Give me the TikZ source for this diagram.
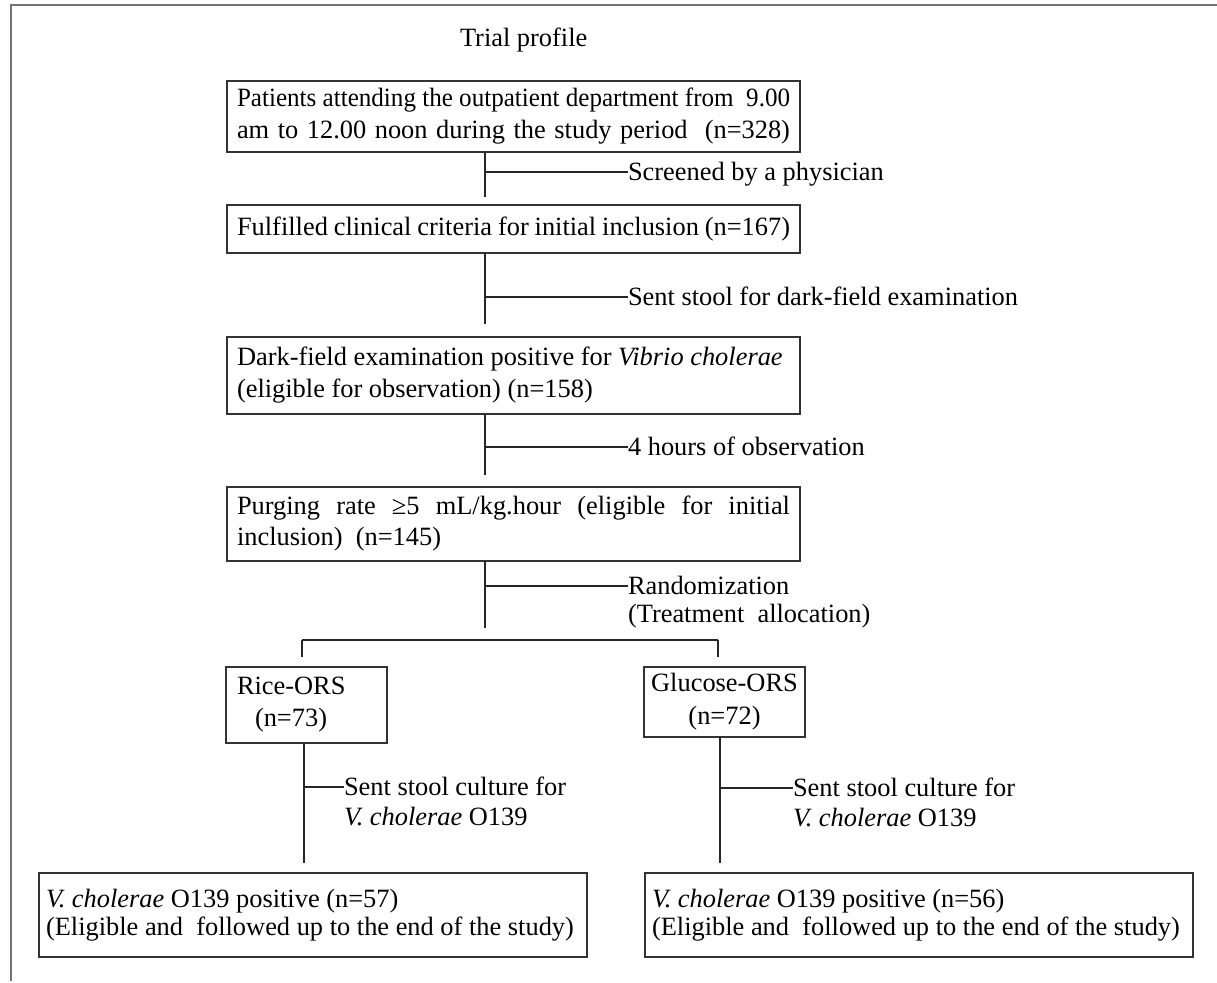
\documentclass[tikz,border=0pt]{standalone}
\usepackage{fontspec}
\setmainfont{Liberation Serif}
\usetikzlibrary{calc}
\newlength\lw
\newcommand\fs{\fontsize{26.4pt}{31pt}\selectfont}
\newcommand\jl[1]{\hbox to \lw{\spaceskip=0.1em plus 1fil\relax #1}}
\newcommand\sqline[1]{\hbox to \lw{\scalebox{0.95}[1]{#1}\hss}}
\newcommand\lline[1]{\hbox to \lw{#1\hfil}}
\newcommand\cenline[1]{\hbox to \lw{\hfil#1\hfil}}
\begin{document}
\begin{tikzpicture}[x=1pt,y=-1pt,
  box/.style={draw=black!80, line width=1.2pt, inner xsep=10pt, inner ysep=0pt, outer sep=0pt, anchor=north west, font=\fs},
  lbl/.style={inner sep=0pt, outer sep=0pt, anchor=base west, font=\fs},
  conn/.style={draw=black!85, line width=1.2pt},
  frame/.style={draw=black!55, line width=1.8pt}]
\useasboundingbox (0,0) rectangle (1217,982);
\draw[frame] (11,981) -- (11,5) -- (1217,5);

\node[lbl] (title) at (460,47) {Trial profile};

\node[box, minimum width=573pt, minimum height=71pt] (b1) at (227,81)
  {\lw=553pt\relax\vbox{\baselineskip=32pt
   \sqline{Patients attending the outpatient department from\ \ 9.00}
   \jl{am to 12.00 noon during the study period\ \ (n=328)}}};
\node[box, minimum width=573pt, minimum height=48pt] (b2) at (227,205)
  {\lw=553pt\relax\vbox{\lline{Fulfilled clinical criteria for initial inclusion (n=167)}}};
\node[box, minimum width=573pt, minimum height=77pt] (b3) at (227,337)
  {\lw=553pt\relax\vbox{\baselineskip=32pt
   \lline{Dark-field examination positive for \textit{Vibrio cholerae}}
   \lline{(eligible for observation) (n=158)}}};
\node[box, minimum width=573pt, minimum height=74pt] (b4) at (227,487)
  {\lw=553pt\relax\vbox{\baselineskip=31pt
   \jl{Purging rate ≥5 mL/kg.hour (eligible for initial}
   \lline{inclusion)\ \ (n=145)}}};
\node[box, minimum width=161pt, minimum height=76pt, inner xsep=11pt] (rice) at (226,667)
  {\lw=139pt\relax\vbox{\baselineskip=32pt
   \lline{Rice-ORS}
   \lline{\hspace{18pt}(n=73)}}};
\node[box, minimum width=161pt, minimum height=70pt, inner xsep=5pt] (gluc) at (644,667)
  {\lw=151pt\relax\vbox{\baselineskip=33pt
   \cenline{Glucose-ORS}
   \cenline{(n=72)}}};
\node[box, minimum width=548pt, minimum height=84pt, inner xsep=7pt] (res1) at (39,873)
  {\lw=534pt\relax\vbox{\baselineskip=28pt
   \lline{\textit{V. cholerae} O139 positive (n=57)}
   \lline{(Eligible and\ \ followed up to the end of the study)}}};
\node[box, minimum width=548pt, minimum height=84pt, inner xsep=7pt] (res2) at (645,873)
  {\lw=534pt\relax\vbox{\baselineskip=28pt
   \lline{\textit{V. cholerae} O139 positive (n=56)}
   \lline{(Eligible and\ \ followed up to the end of the study)}}};

% labels
\node[lbl] (s1) at (628,180) {Screened by a physician};
\node[lbl] (s2) at (628,305) {Sent stool for dark-field examination};
\node[lbl] (s3) at (628,455) {4 hours of observation};
\node[lbl] (s4) at (628,594) {\vtop{\baselineskip=28pt\hbox{Randomization}\hbox{(Treatment\ \ allocation)}}};
\node[lbl] (s5) at (344,795) {\vtop{\baselineskip=30pt\hbox{Sent stool culture for}\hbox{\textit{V. cholerae} O139}}};
\node[lbl] (s6) at (793,796) {\vtop{\baselineskip=30pt\hbox{Sent stool culture for}\hbox{\textit{V. cholerae} O139}}};

% coordinates
\coordinate (v) at (485,0);
\coordinate (vr) at (304,0);
\coordinate (vg) at (720,0);
\coordinate (k1) at (485,172);
\coordinate (k2) at (485,297);
\coordinate (k3) at (485,447);
\coordinate (k4) at (485,586);
\coordinate (m4) at (485,628);
\coordinate (sl) at (302,640);
\coordinate (sr) at (718,640);
\coordinate (kr) at (304,787);
\coordinate (kg) at (720,788);

% connectors
\draw[conn] (b1.south -| v) -- ($(b2.north -| v)+(0,-8)$);
\draw[conn] (k1) -- (k1 -| s1.west);
\draw[conn] (b2.south -| v) -- ($(b3.north -| v)+(0,-13)$);
\draw[conn] (k2) -- (k2 -| s2.west);
\draw[conn] (b3.south -| v) -- ($(b4.north -| v)+(0,-12)$);
\draw[conn] (k3) -- (k3 -| s3.west);
\draw[conn] (b4.south -| v) -- (m4);
\draw[conn] (k4) -- (k4 -| s4.west);
\draw[conn] (sl) -- (sr);
\draw[conn] (sl) -- ($(rice.north -| sl)+(0,-10)$);
\draw[conn] (sr) -- ($(gluc.north -| sr)+(0,-10)$);
\draw[conn] (rice.south -| vr) -- ($(res1.north -| vr)+(0,-10)$);
\draw[conn] (kr) -- (kr -| s5.west);
\draw[conn] (gluc.south -| vg) -- ($(res2.north -| vg)+(0,-10)$);
\draw[conn] (kg) -- (kg -| s6.west);
\end{tikzpicture}
\end{document}
